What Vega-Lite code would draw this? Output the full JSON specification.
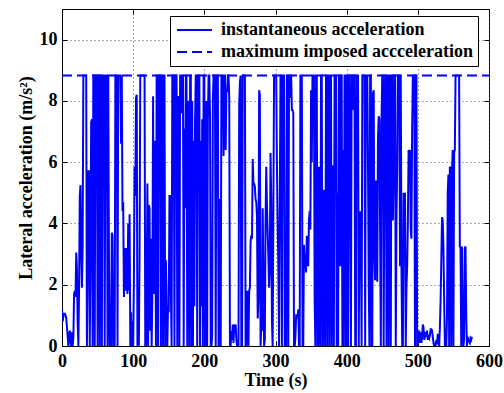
{
"$schema": "https://vega.github.io/schema/vega-lite/v6.json",
"width": 427, "height": 337,
"autosize": "none",
"padding": {"left": 62, "top": 9, "right": 15, "bottom": 47},
"config": {
  "font": "Liberation Serif",
  "view": {"stroke": "#000", "strokeWidth": 1},
  "axis": {"labelFont": "Liberation Serif", "labelFontSize": 18, "labelFontWeight": "bold", "labelColor": "#000", "labelFlush": false,
    "titleFont": "Liberation Serif", "titleFontSize": 18, "titleFontWeight": "bold", "titleColor": "#000",
    "domainColor": "#000", "tickColor": "#000", "tickSize": -5, "gridColor": "#555", "gridDash": [1, 3], "gridOpacity": 1, "gridWidth": 1}
},
"layer": [
{
"data": {"values": [
{"t":0,"a":1.2},{"t":1,"a":0.8},{"t":2,"a":1.0},{"t":3,"a":1.05},{"t":4,"a":1.05},{"t":5,"a":1.0},{"t":6,"a":0.9},{"t":7,"a":0.6},{"t":8,"a":0.3},{"t":9,"a":0},
{"t":10,"a":0.4},{"t":11,"a":0.5},{"t":12,"a":0.1},{"t":13,"a":0},{"t":14,"a":0.45},{"t":15,"a":0},{"t":16,"a":0.3},{"t":17,"a":1.7},{"t":18,"a":1.8},{"t":19,"a":1.6},
{"t":20,"a":3.05},{"t":21,"a":2.5},{"t":22,"a":0.8},{"t":23,"a":0},{"t":24,"a":1.9},{"t":25,"a":4.9},{"t":26,"a":5.25},{"t":27,"a":3.0},{"t":28,"a":1.9},{"t":29,"a":3.2},
{"t":30,"a":8.83},{"t":31,"a":8.83},{"t":32,"a":8.83},{"t":33,"a":8.83},{"t":34,"a":8.83},{"t":35,"a":0},{"t":36,"a":2.5},{"t":37,"a":5.7},{"t":38,"a":5.7},{"t":39,"a":0},
{"t":40,"a":3.0},{"t":41,"a":7.3},{"t":42,"a":7.4},{"t":43,"a":0},{"t":44,"a":8.83},{"t":45,"a":8.83},{"t":46,"a":0},{"t":47,"a":8.83},{"t":48,"a":8.83},{"t":49,"a":8.83},
{"t":50,"a":0},{"t":51,"a":8.83},{"t":52,"a":8.83},{"t":53,"a":0},{"t":54,"a":8.83},{"t":55,"a":8.83},{"t":56,"a":0},{"t":57,"a":8.83},{"t":58,"a":8.83},{"t":59,"a":8.83},
{"t":60,"a":0},{"t":61,"a":8.83},{"t":62,"a":8.83},{"t":63,"a":8.83},{"t":64,"a":0},{"t":65,"a":8.83},{"t":66,"a":2.8},{"t":67,"a":0},{"t":68,"a":1.2},{"t":69,"a":0},
{"t":70,"a":3.7},{"t":71,"a":3.6},{"t":72,"a":0},{"t":73,"a":0.4},{"t":74,"a":0},{"t":75,"a":8.83},{"t":76,"a":8.83},{"t":77,"a":8.83},{"t":78,"a":0},{"t":79,"a":8.83},
{"t":80,"a":8.83},{"t":81,"a":8.83},{"t":82,"a":8.83},{"t":83,"a":6.6},{"t":84,"a":8.83},{"t":85,"a":4.4},{"t":86,"a":4.7},{"t":87,"a":1.6},{"t":88,"a":2.4},{"t":89,"a":3.2},
{"t":90,"a":1.8},{"t":91,"a":3.2},{"t":92,"a":1.7},{"t":93,"a":4.0},{"t":94,"a":1.8},{"t":95,"a":4.3},{"t":96,"a":0},{"t":97,"a":1.1},{"t":98,"a":0},{"t":99,"a":0.8},
{"t":100,"a":0},{"t":101,"a":2.0},{"t":102,"a":5.85},{"t":103,"a":4.9},{"t":104,"a":8.1},{"t":105,"a":8.2},{"t":106,"a":0},{"t":107,"a":0},{"t":108,"a":0},{"t":109,"a":3.0},
{"t":110,"a":8.83},{"t":111,"a":8.83},{"t":112,"a":8.83},{"t":113,"a":8.83},{"t":114,"a":8.83},{"t":115,"a":8.83},{"t":116,"a":8.83},{"t":117,"a":0},{"t":118,"a":0},{"t":119,"a":1.8},
{"t":120,"a":5.3},{"t":121,"a":0},{"t":122,"a":4.6},{"t":123,"a":4.5},{"t":124,"a":0.5},{"t":125,"a":3.5},{"t":126,"a":0},{"t":127,"a":1.8},{"t":128,"a":8.15},{"t":129,"a":1.7},
{"t":130,"a":6.7},{"t":131,"a":6.6},{"t":132,"a":0},{"t":133,"a":8.83},{"t":134,"a":8.83},{"t":135,"a":0},{"t":136,"a":8.83},{"t":137,"a":8.83},{"t":138,"a":8.83},{"t":139,"a":0},
{"t":140,"a":8.83},{"t":141,"a":8.83},{"t":142,"a":0},{"t":143,"a":8.83},{"t":144,"a":8.83},{"t":145,"a":0},{"t":146,"a":2.8},{"t":147,"a":1.5},{"t":148,"a":0},{"t":149,"a":1.3},
{"t":150,"a":1.1},{"t":151,"a":4.9},{"t":152,"a":4.9},{"t":153,"a":1.8},{"t":154,"a":0},{"t":155,"a":8.83},{"t":156,"a":8.83},{"t":157,"a":8.83},{"t":158,"a":0},{"t":159,"a":8.83},
{"t":160,"a":8.83},{"t":161,"a":8.83},{"t":162,"a":0},{"t":163,"a":8.15},{"t":164,"a":8.1},{"t":165,"a":0},{"t":166,"a":8.83},{"t":167,"a":8.83},{"t":168,"a":7.6},{"t":169,"a":8.83},
{"t":170,"a":8.83},{"t":171,"a":0},{"t":172,"a":7.1},{"t":173,"a":4.5},{"t":174,"a":8.83},{"t":175,"a":8.83},{"t":176,"a":0},{"t":177,"a":7.5},{"t":178,"a":8.0},{"t":179,"a":0},
{"t":180,"a":8.83},{"t":181,"a":8.83},{"t":182,"a":0},{"t":183,"a":8.0},{"t":184,"a":0},{"t":185,"a":6.7},{"t":186,"a":1.3},{"t":187,"a":7.4},{"t":188,"a":8.83},{"t":189,"a":8.83},
{"t":190,"a":0},{"t":191,"a":8.83},{"t":192,"a":8.83},{"t":193,"a":8.83},{"t":194,"a":0},{"t":195,"a":6.7},{"t":196,"a":1.3},{"t":197,"a":7.4},{"t":198,"a":0},{"t":199,"a":8.83},
{"t":200,"a":8.83},{"t":201,"a":0},{"t":202,"a":0},{"t":203,"a":8.0},{"t":204,"a":0},{"t":205,"a":7.45},{"t":206,"a":8.83},{"t":207,"a":8.83},{"t":208,"a":7.5},{"t":209,"a":0},
{"t":210,"a":0},{"t":211,"a":0.3},{"t":212,"a":8.0},{"t":213,"a":8.83},{"t":214,"a":8.83},{"t":215,"a":8.0},{"t":216,"a":0},{"t":217,"a":8.83},{"t":218,"a":8.83},{"t":219,"a":8.83},
{"t":220,"a":0},{"t":221,"a":2.0},{"t":222,"a":4.8},{"t":223,"a":0},{"t":224,"a":8.83},{"t":225,"a":8.83},{"t":226,"a":8.83},{"t":227,"a":6.2},{"t":228,"a":8.83},{"t":229,"a":8.83},
{"t":230,"a":6.4},{"t":231,"a":8.4},{"t":232,"a":8.3},{"t":233,"a":8.83},{"t":234,"a":8.83},{"t":235,"a":8.1},{"t":236,"a":0},{"t":237,"a":0},{"t":238,"a":0.5},{"t":239,"a":0.2},
{"t":240,"a":0.7},{"t":241,"a":0.1},{"t":242,"a":0.7},{"t":243,"a":0.6},{"t":244,"a":0.7},{"t":245,"a":0.2},{"t":246,"a":0},{"t":247,"a":0},{"t":248,"a":0},{"t":249,"a":7.9},
{"t":250,"a":8.6},{"t":251,"a":8.83},{"t":252,"a":0},{"t":253,"a":0},{"t":254,"a":8.83},{"t":255,"a":8.83},{"t":256,"a":8.83},{"t":257,"a":8.83},{"t":258,"a":0},{"t":259,"a":0},
{"t":260,"a":1.8},{"t":261,"a":1.7},{"t":262,"a":0},{"t":263,"a":1.8},{"t":264,"a":1.9},{"t":265,"a":3.4},{"t":266,"a":3.6},{"t":267,"a":3.5},{"t":268,"a":6.1},{"t":269,"a":5.3},
{"t":270,"a":5.3},{"t":271,"a":5.2},{"t":272,"a":4.8},{"t":273,"a":4.7},{"t":274,"a":4.2},{"t":275,"a":0.9},{"t":276,"a":1.5},{"t":277,"a":8.35},{"t":278,"a":8.2},{"t":279,"a":0},
{"t":280,"a":0.6},{"t":281,"a":0.5},{"t":282,"a":4.5},{"t":283,"a":2.3},{"t":284,"a":0},{"t":285,"a":0.2},{"t":286,"a":4.0},{"t":287,"a":5.85},{"t":288,"a":4.6},{"t":289,"a":3.7},
{"t":290,"a":2.9},{"t":291,"a":1.9},{"t":292,"a":2.5},{"t":293,"a":6.3},{"t":294,"a":4.8},{"t":295,"a":0.8},{"t":296,"a":0},{"t":297,"a":4.4},{"t":298,"a":8.83},{"t":299,"a":8.83},
{"t":300,"a":8.83},{"t":301,"a":8.83},{"t":302,"a":6.0},{"t":303,"a":4.0},{"t":304,"a":2.6},{"t":305,"a":0},{"t":306,"a":4.4},{"t":307,"a":8.83},{"t":308,"a":8.83},{"t":309,"a":0},
{"t":310,"a":8.83},{"t":311,"a":8.83},{"t":312,"a":8.83},{"t":313,"a":0},{"t":314,"a":0},{"t":315,"a":0},{"t":316,"a":8.83},{"t":317,"a":8.83},{"t":318,"a":0},{"t":319,"a":8.83},
{"t":320,"a":8.1},{"t":321,"a":8.83},{"t":322,"a":8.83},{"t":323,"a":7.7},{"t":324,"a":7.7},{"t":325,"a":7.6},{"t":326,"a":0},{"t":327,"a":0},{"t":328,"a":0.3},{"t":329,"a":1.0},
{"t":330,"a":1.0},{"t":331,"a":0.9},{"t":332,"a":1.2},{"t":333,"a":0},{"t":334,"a":0},{"t":335,"a":8.83},{"t":336,"a":8.83},{"t":337,"a":8.83},{"t":338,"a":0},{"t":339,"a":0},
{"t":340,"a":3.3},{"t":341,"a":2.5},{"t":342,"a":3.0},{"t":343,"a":2.4},{"t":344,"a":3.6},{"t":345,"a":3.5},{"t":346,"a":2.6},{"t":347,"a":4.1},{"t":348,"a":4.4},{"t":349,"a":3.8},
{"t":350,"a":8.35},{"t":351,"a":6.0},{"t":352,"a":8.83},{"t":353,"a":8.83},{"t":354,"a":8.83},{"t":355,"a":1.5},{"t":356,"a":0},{"t":357,"a":8.83},{"t":358,"a":8.83},{"t":359,"a":0},
{"t":360,"a":0},{"t":361,"a":5.85},{"t":362,"a":0.8},{"t":363,"a":0},{"t":364,"a":8.83},{"t":365,"a":8.83},{"t":366,"a":0},{"t":367,"a":0},{"t":368,"a":5.1},{"t":369,"a":2.4},
{"t":370,"a":0},{"t":371,"a":8.83},{"t":372,"a":8.83},{"t":373,"a":0},{"t":374,"a":8.83},{"t":375,"a":8.83},{"t":376,"a":0},{"t":377,"a":8.83},{"t":378,"a":8.83},{"t":379,"a":0},
{"t":380,"a":4.2},{"t":381,"a":5.9},{"t":382,"a":0},{"t":383,"a":8.83},{"t":384,"a":8.83},{"t":385,"a":8.83},{"t":386,"a":0},{"t":387,"a":5.0},{"t":388,"a":0},{"t":389,"a":8.83},
{"t":390,"a":8.83},{"t":391,"a":2.6},{"t":392,"a":8.83},{"t":393,"a":8.83},{"t":394,"a":0},{"t":395,"a":6.4},{"t":396,"a":0},{"t":397,"a":8.83},{"t":398,"a":8.83},{"t":399,"a":0},
{"t":400,"a":8.83},{"t":401,"a":8.83},{"t":402,"a":0},{"t":403,"a":8.83},{"t":404,"a":8.83},{"t":405,"a":4.8},{"t":406,"a":0},{"t":407,"a":8.83},{"t":408,"a":8.83},{"t":409,"a":7.7},
{"t":410,"a":8.83},{"t":411,"a":8.83},{"t":412,"a":0},{"t":413,"a":0},{"t":414,"a":8.83},{"t":415,"a":8.83},{"t":416,"a":8.83},{"t":417,"a":0},{"t":418,"a":4.3},{"t":419,"a":4.4},
{"t":420,"a":3.7},{"t":421,"a":0},{"t":422,"a":8.83},{"t":423,"a":8.83},{"t":424,"a":8.83},{"t":425,"a":8.83},{"t":426,"a":0},{"t":427,"a":8.83},{"t":428,"a":8.35},{"t":429,"a":8.83},
{"t":430,"a":5.85},{"t":431,"a":2.1},{"t":432,"a":0},{"t":433,"a":8.83},{"t":434,"a":8.83},{"t":435,"a":0},{"t":436,"a":0},{"t":437,"a":8.25},{"t":438,"a":8.35},{"t":439,"a":2.9},
{"t":440,"a":2.15},{"t":441,"a":5.4},{"t":442,"a":5.0},{"t":443,"a":2.1},{"t":444,"a":6.8},{"t":445,"a":7.5},{"t":446,"a":7.4},{"t":447,"a":3.7},{"t":448,"a":0},{"t":449,"a":7.4},
{"t":450,"a":8.83},{"t":451,"a":8.83},{"t":452,"a":0},{"t":453,"a":6.0},{"t":454,"a":8.83},{"t":455,"a":8.83},{"t":456,"a":0},{"t":457,"a":8.83},{"t":458,"a":8.83},{"t":459,"a":0},
{"t":460,"a":8.83},{"t":461,"a":8.83},{"t":462,"a":0},{"t":463,"a":8.83},{"t":464,"a":8.83},{"t":465,"a":4.1},{"t":466,"a":5.85},{"t":467,"a":8.83},{"t":468,"a":8.83},{"t":469,"a":0},
{"t":470,"a":4.1},{"t":471,"a":5.85},{"t":472,"a":8.83},{"t":473,"a":8.83},{"t":474,"a":8.83},{"t":475,"a":2.6},{"t":476,"a":8.83},{"t":477,"a":2.6},{"t":478,"a":0},{"t":479,"a":0},
{"t":480,"a":5.0},{"t":481,"a":3.4},{"t":482,"a":5.0},{"t":483,"a":0},{"t":484,"a":1.9},{"t":485,"a":2.6},{"t":486,"a":4.0},{"t":487,"a":6.4},{"t":488,"a":6.1},{"t":489,"a":6.4},
{"t":490,"a":3.8},{"t":491,"a":3.5},{"t":492,"a":7.1},{"t":493,"a":8.83},{"t":494,"a":8.83},{"t":495,"a":8.83},{"t":496,"a":0},{"t":497,"a":8.83},{"t":498,"a":8.83},{"t":499,"a":0},
{"t":500,"a":0.2},{"t":501,"a":0.1},{"t":502,"a":0.5},{"t":503,"a":0.1},{"t":504,"a":0.45},{"t":505,"a":0.1},{"t":506,"a":0.3},{"t":507,"a":0.7},{"t":508,"a":0.6},{"t":509,"a":0.2},
{"t":510,"a":0.3},{"t":511,"a":0.45},{"t":512,"a":0.3},{"t":513,"a":0.5},{"t":514,"a":0.2},{"t":515,"a":0.3},{"t":516,"a":0.25},{"t":517,"a":0.35},{"t":518,"a":0.55},{"t":519,"a":0.55},
{"t":520,"a":0.5},{"t":521,"a":0.3},{"t":522,"a":0.1},{"t":523,"a":0},{"t":524,"a":0.1},{"t":525,"a":0},{"t":526,"a":0.2},{"t":527,"a":0.05},{"t":528,"a":0.4},{"t":529,"a":0.1},
{"t":530,"a":0},{"t":531,"a":0.6},{"t":532,"a":1.5},{"t":533,"a":2.8},{"t":534,"a":4.2},{"t":535,"a":4.1},{"t":536,"a":3.2},{"t":537,"a":1.5},{"t":538,"a":0},{"t":539,"a":0.3},
{"t":540,"a":0},{"t":541,"a":1.0},{"t":542,"a":5.0},{"t":543,"a":5.6},{"t":544,"a":0},{"t":545,"a":5.85},{"t":546,"a":5.8},{"t":547,"a":0},{"t":548,"a":5.7},{"t":549,"a":6.4},
{"t":550,"a":0},{"t":551,"a":6.3},{"t":552,"a":6.4},{"t":553,"a":8.83},{"t":554,"a":8.83},{"t":555,"a":8.83},{"t":556,"a":8.83},{"t":557,"a":8.83},{"t":558,"a":8.83},{"t":559,"a":3.25},
{"t":560,"a":3.2},{"t":561,"a":0},{"t":562,"a":3.25},{"t":563,"a":1.0},{"t":564,"a":0},{"t":565,"a":0.2},{"t":566,"a":3.2},{"t":567,"a":3.25},{"t":568,"a":1.0},{"t":569,"a":0},
{"t":570,"a":0.3},{"t":571,"a":0.2},{"t":572,"a":0.15},{"t":573,"a":0.1},{"t":574,"a":0.25},{"t":575,"a":0.2},{"t":576,"a":0.3}
]},
"mark": {"type": "line", "color": "#0000ff", "strokeWidth": 2, "clip": true},
"encoding": {
  "x": {"field": "t", "type": "quantitative", "scale": {"domain": [0, 600], "nice": false},
        "axis": {"title": "Time (s)", "values": [0, 100, 200, 300, 400, 500, 600], "grid": true, "labelPadding": 11, "titlePadding": 1}},
  "y": {"field": "a", "type": "quantitative", "scale": {"domain": [0, 11], "nice": false},
        "axis": {"title": "Lateral acceleration (m/s²)", "values": [0, 2, 4, 6, 8, 10], "grid": true, "labelPadding": 10, "titlePadding": 4}},
  "strokeDash": {"datum": "instantaneous acceleration", "type": "nominal",
    "scale": {"domain": ["instantaneous acceleration", "maximum imposed accceleration"], "range": [[1, 0], [10, 5]]},
    "legend": {"title": null, "orient": "none", "legendX": 108, "legendY": 7,
      "labelFont": "Liberation Serif", "labelFontSize": 18, "labelFontWeight": "bold", "labelColor": "#000", "labelLimit": 400,
      "symbolType": "M-1,0H4", "symbolSize": 196, "symbolStrokeWidth": 2, "symbolStrokeColor": "#0000ff",
      "strokeColor": "#000", "fillColor": "#fff", "padding": 5, "rowPadding": 4, "labelOffset": 28}}
}
},
{
"data": {"values": [{"t": 0, "a": 8.83}, {"t": 600, "a": 8.83}]},
"mark": {"type": "line", "color": "#0000ff", "strokeWidth": 2},
"encoding": {
  "x": {"field": "t", "type": "quantitative", "axis": {"orient": "top", "labels": false, "title": null, "grid": false, "domain": false, "values": [0, 100, 200, 300, 400, 500, 600]}},
  "y": {"field": "a", "type": "quantitative", "axis": {"orient": "right", "labels": false, "title": null, "grid": false, "domain": false, "values": [0, 2, 4, 6, 8, 10]}},
  "strokeDash": {"datum": "maximum imposed accceleration", "type": "nominal"}
}
}
],
"resolve": {"axis": {"x": "independent", "y": "independent"}}
}
